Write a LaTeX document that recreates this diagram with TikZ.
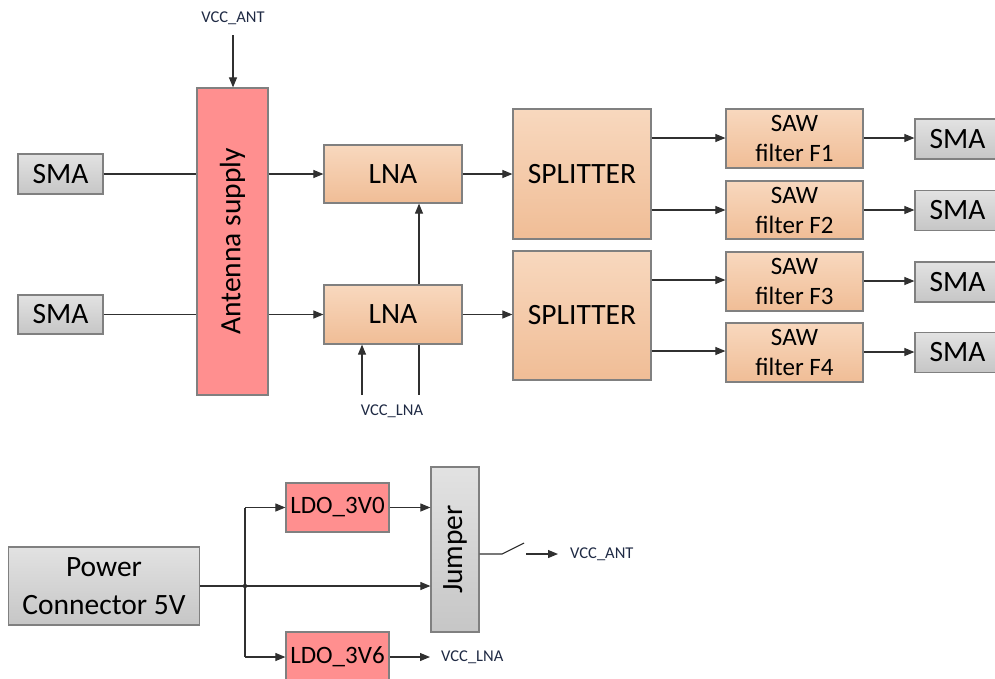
\documentclass[tikz,border=0pt]{standalone}
\usepackage{fontspec}
\setmainfont{Carlito}
\usetikzlibrary{arrows.meta}
\definecolor{pinkf}{HTML}{FF8F8F}
\definecolor{orT}{HTML}{F8D8BE}
\definecolor{orB}{HTML}{F0BD96}
\definecolor{grT}{HTML}{E2E2E2}
\definecolor{grB}{HTML}{C6C6C6}
\definecolor{bordc}{HTML}{808080}
\definecolor{linec}{HTML}{303030}
\definecolor{lblc}{HTML}{1F2A44}
\tikzset{
  blk/.style={draw=bordc, line width=1.2pt, inner sep=0pt, align=center, text=black},
  orbox/.style={blk, top color=orT, bottom color=orB},
  grbox/.style={blk, top color=grT, bottom color=grB},
  pkbox/.style={blk, fill=pinkf},
  big/.style={font=\fontsize{29.5}{38}\selectfont},
  mid/.style={font=\fontsize{25}{30}\selectfont},
  small/.style={font=\fontsize{16.5}{18}\selectfont, text=lblc, inner sep=0pt},
  conn/.style={draw=linec, line width=1.1pt},
  arr/.style={conn, -{Triangle[length=10pt,width=8pt]}},
}
\begin{document}
\begin{tikzpicture}[x=1pt,y=-1pt]
\useasboundingbox (0,0) rectangle (995,678);
\clip (0,0) rectangle (995,678);
% top left
\node[grbox,big,minimum width=85,minimum height=40] (smaL1) at (60.5,174) {SMA};
\node[grbox,big,minimum width=85,minimum height=39] (smaL2) at (60.5,314.5) {SMA};
\node[pkbox,minimum width=71,minimum height=307] (ant) at (232.5,241.5) {};
\node[big,rotate=90] at (ant.center) {Antenna supply};
\node[orbox,big,minimum width=138,minimum height=58] (lna1) at (393,174) {LNA};
\node[orbox,big,minimum width=138,minimum height=59] (lna2) at (393,314.5) {LNA};
\node[orbox,big,minimum width=138,minimum height=130] (sp1) at (582,174) {SPLITTER};
\node[orbox,big,minimum width=138,minimum height=129] (sp2) at (582,315.5) {SPLITTER};
\node[orbox,mid,minimum width=137,minimum height=59] (saw1) at (794.5,138.5) {SAW\\filter F1};
\node[orbox,mid,minimum width=137,minimum height=58] (saw2) at (794.5,210) {SAW\\filter F2};
\node[orbox,mid,minimum width=137,minimum height=59] (saw3) at (794.5,281.5) {SAW\\filter F3};
\node[orbox,mid,minimum width=137,minimum height=59] (saw4) at (794.5,352.5) {SAW\\filter F4};
\node[grbox,minimum width=85,minimum height=40] (smaR1) at (957.5,139) {};
\node[grbox,minimum width=85,minimum height=40] (smaR2) at (957.5,210.5) {};
\node[grbox,minimum width=85,minimum height=40] (smaR3) at (957.5,282) {};
\node[grbox,minimum width=85,minimum height=40] (smaR4) at (957.5,352.5) {};
\foreach \n in {1,2,3,4}{\node[big] at (smaR\n.center) {SMA};}
\node[small] (vccant) at (233,18) {VCC\_ANT};
\coordinate (vaS) at (233,35);
\node[small] (vcclna) at (392,411) {VCC\_LNA};
\coordinate (vl1) at (362,395);
\coordinate (vl2) at (419,395);
% top connectors
\draw[conn] (smaL1.east) -- (smaL1.east -| ant.west);
\draw[conn] (smaL2.east) -- (smaL2.east -| ant.west);
\draw[arr] (lna1.west -| ant.east) -- (lna1.west);
\draw[arr] (lna2.west -| ant.east) -- (lna2.west);
\draw[arr] (vaS) -- (vaS |- ant.north);
\draw[arr] (vl2 |- lna2.north) -- (vl2 |- lna1.south);
\draw[arr] (vl1) -- (vl1 |- lna2.south);
\draw[conn] (vl2 |- lna2.south) -- (vl2);
\draw[arr] (lna1.east) -- (lna1.east -| sp1.west);
\draw[arr] (lna2.east) -- (lna2.east -| sp2.west);
\draw[arr] (sp1.east |- 0,138) -- (saw1.west |- 0,138);
\draw[arr] (sp1.east |- 0,210) -- (saw2.west |- 0,210);
\draw[arr] (sp2.east |- 0,280) -- (saw3.west |- 0,280);
\draw[arr] (sp2.east |- 0,351) -- (saw4.west |- 0,351);
\draw[arr] (saw1.east |- 0,138) -- (smaR1.west |- 0,138);
\draw[arr] (saw2.east |- 0,210) -- (smaR2.west |- 0,210);
\draw[arr] (saw3.east |- 0,281) -- (smaR3.west |- 0,281);
\draw[arr] (saw4.east |- 0,352) -- (smaR4.west |- 0,352);
% bottom
\node[grbox,big,minimum width=191,minimum height=78] (pwr) at (104,586) {Power\\Connector 5V};
\node[pkbox,mid,minimum width=103,minimum height=49] (ldo1) at (337.5,507.5) {LDO\_3V0};
\node[pkbox,mid,minimum width=103,minimum height=50] (ldo2) at (337.5,657) {LDO\_3V6};
\node[grbox,minimum width=48,minimum height=165] (jmp) at (455,549.5) {};
\node[big,rotate=90] at (jmp.center) {Jumper};
\coordinate (jn) at (245,586);
\coordinate (sw1) at (502,554);
\coordinate (sw2) at (524,543);
\coordinate (sa) at (526,554);
\coordinate (sb) at (558,554);
\node[small,anchor=west] (vccant2) at (570,554) {VCC\_ANT};
\coordinate (la) at (430,657);
\node[small,anchor=west] (vcclna2) at (441,657) {VCC\_LNA};
\draw[arr] (pwr.east) -- (pwr.east -| jmp.west);
\fill[linec] (jn) circle (2.2pt);
\draw[conn] (jn |- ldo1.west) -- (jn |- ldo2.west);
\draw[arr] (jn |- ldo1.west) -- (ldo1.west);
\draw[arr] (jn |- ldo2.west) -- (ldo2.west);
\draw[arr] (ldo1.east) -- (ldo1.east -| jmp.west);
\draw[conn] (jmp.east |- sw1) -- (sw1) -- (sw2);
\draw[arr] (sa) -- (sb);
\draw[arr] (ldo2.east) -- (la);
\end{tikzpicture}
\end{document}
